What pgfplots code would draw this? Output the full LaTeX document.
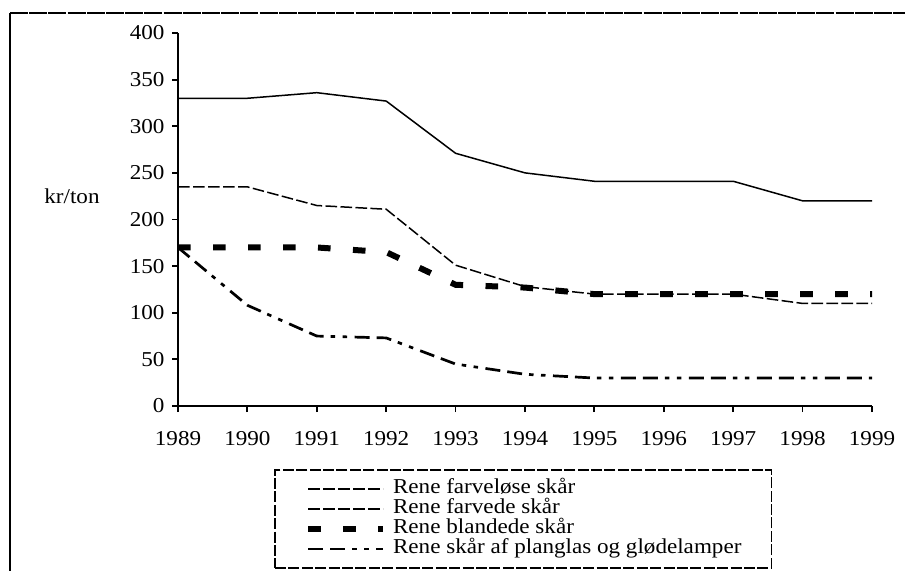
\documentclass[border=0pt]{standalone}
\usepackage{pgfplots}
\pgfplotsset{compat=1.18}
\usepackage{fontspec}
\setmainfont{Liberation Serif}[FakeStretch=1.09]
\begin{document}
\fontsize{10.6pt}{12pt}\selectfont
\begin{tikzpicture}
\useasboundingbox (0,0) rectangle (452.5pt,-285.5pt);
\draw[line width=1pt] (5pt,-300pt) -- (5pt,-6.6pt);
\draw[line width=1pt, dash pattern=on 9pt off 0.6pt] (5pt,-6.6pt) -- (460pt,-6.6pt);
\begin{axis}[
  at={(89pt,-203pt)}, anchor=south west,
  scale only axis, width=347pt, height=186.5pt,
  xmin=1989, xmax=1999, ymin=0, ymax=400,
  axis x line*=bottom, axis y line*=left,
  axis line style={line width=1pt, -},
  xtick={1989,1990,...,1999}, ytick={0,50,...,400},
  tick align=outside, major tick length=3pt,
  tick style={line width=0.9pt, black},
  x tick label style={/pgf/number format/1000 sep={}, yshift=-6pt},
  /pgf/number format/assume math mode=true,
  tick label style={font=\fontsize{10.6pt}{12pt}\selectfont},
  clip=false,
  legend style={at={(0.1398,-0.1716)}, anchor=north west,
    draw=black, line width=0.75pt, dash pattern=on 5.5pt off 1.2pt,
    inner xsep=15pt, inner ysep=4.5pt, outer sep=0pt,
    font=\fontsize{10.6pt}{12pt}\selectfont,
    nodes={inner sep=0pt, text height=7pt, text depth=3pt, solid},
    row sep=0pt, column sep=3.5pt},
  legend cell align=left,
  legend image code/.code={\draw[#1] (0pt,0pt) -- (37.5pt,0pt);},
]
\addplot[black, line width=0.75pt, solid,
  legend image post style={dash pattern=on 5.8pt off 1.7pt}] coordinates {
(1989,330) (1990,330) (1991,336) (1992,327) (1993,271) (1994,250)
(1995,241) (1996,241) (1997,241) (1998,220) (1999,220)};
\addlegendentry{Rene farveløse skår}
\addplot[black, line width=0.75pt, dash pattern=on 5.8pt off 1.7pt] coordinates {
(1989,235) (1990,235) (1991,215) (1992,211) (1993,151) (1994,128)
(1995,120) (1996,120) (1997,120) (1998,110) (1999,110)};
\addlegendentry{Rene farvede skår}
\addplot[black, line width=3pt, dash pattern=on 6.3pt off 11.2pt] coordinates {
(1989,170) (1990,170) (1991,170) (1992,165) (1993,130) (1994,127)
(1995,120) (1996,120) (1997,120) (1998,120) (1999,120)};
\addlegendentry{Rene blandede skår}
\addplot[black, line width=1.35pt, dash pattern=on 7.5pt off 3.5pt on 7.5pt off 3.5pt on 2.25pt off 3.75pt on 2.25pt off 3.75pt] coordinates {
(1989,170) (1990,108) (1991,75) (1992,73) (1993,45) (1994,34)
(1995,30) (1996,30) (1997,30) (1998,30) (1999,30)};
\addlegendentry{Rene skår af planglas og glødelamper}
\end{axis}
\node[font=\fontsize{10.6pt}{12pt}\selectfont] at (36pt,-98pt) {kr/ton};
\end{tikzpicture}
\end{document}
